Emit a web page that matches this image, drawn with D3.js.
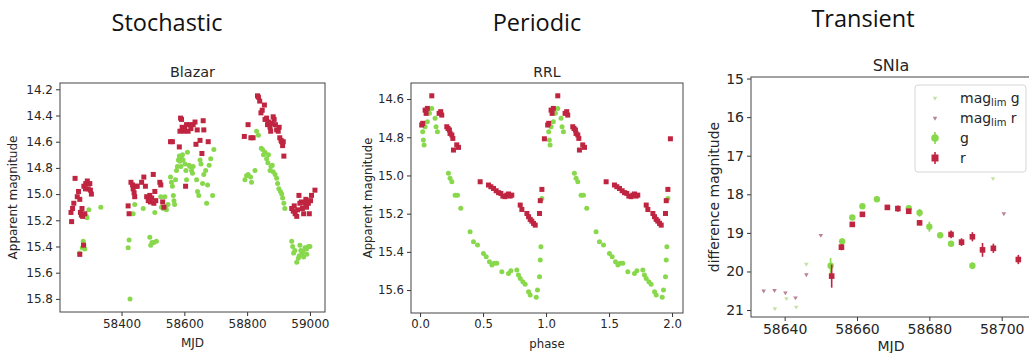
<!DOCTYPE html>
<html>
<head>
<meta charset="utf-8">
<script src="https://cdn.jsdelivr.net/npm/d3@7"></script>
<style>
  body { margin: 0; background: #fff; }
  svg text { font-family: "DejaVu Sans", sans-serif; fill: #262626; }
</style>
</head>
<body>
<svg id="chart" width="1029" height="353"></svg>
<script>
const RED = "#bf2440";
const GREEN = "#88d84c";
const LIM_G = "#c4e2a4";
const LIM_R = "#b98296";

// ---- Blazar (MJD, mag)
const blazarR = [
  [58239,15.14],[58241,15.21],[58244,15.11],[58248,15.07],[58252,14.88],[58259,15.02],[58263,14.98],[58267,15.04],
  [58269,15.14],[58272,15.16],[58274,15.11],[58276,15.17],[58267,15.46],[58279,15.39],[58280,14.94],[58286,14.92],
  [58291,14.90],[58294,14.96],[58299,14.92],[58301,14.97],[58304,15.00],[58285,14.96],[58283,15.15],
  [58421,15.09],[58424,15.15],[58430,14.91],[58435,14.93],[58437,14.96],[58440,14.99],[58442,15.02],[58446,14.94],
  [58450,14.94],[58464,14.91],[58471,14.87],[58476,14.94],[58480,15.02],[58485,15.05],[58490,15.01],[58492,15.06],
  [58496,15.03],[58501,14.85],[58503,15.07],[58506,14.98],[58509,15.05],[58522,14.91],[58525,14.93],[58531,15.06],[58535,15.10],
  [58556,14.60],[58562,14.60],[58584,14.64],[58586,14.52],[58588,14.42],[58591,14.43],[58593,14.49],[58596,14.51],
  [58599,14.52],[58601,14.50],[58604,14.94],[58607,14.47],[58612,14.52],[58618,14.47],[58621,14.50],[58628,14.47],
  [58634,14.45],[58637,14.62],[58641,14.51],[58650,14.59],[58656,14.69],[58660,14.44],[58662,14.51],[58676,14.60],
  [58791,14.56],[58803,14.47],[58812,14.57],[58819,14.57],[58833,14.25],[58836,14.26],[58840,14.29],[58844,14.38],
  [58848,14.36],[58855,14.32],[58857,14.43],[58862,14.42],[58865,14.47],[58868,14.45],[58873,14.49],[58875,14.52],
  [58878,14.46],[58883,14.41],[58886,14.43],[58890,14.47],[58894,14.51],[58899,14.52],[58902,14.49],[58904,14.57],
  [58908,14.59],[58910,14.60],[58913,14.63],[58915,14.60],[58917,14.71],
  [58942,15.11],[58947,15.13],[58950,15.09],[58953,15.15],[58958,15.17],[58961,15.12],[58965,15.01],[58968,15.07],
  [58973,15.06],[58976,15.11],[58980,15.15],[58984,15.07],[58987,15.04],[58989,15.10],[58995,15.07],[58998,15.15],
  [59002,15.05],[59005,15.01],[59016,14.97]
];
const blazarG = [
  [58288,15.17],[58290,15.18],[58296,15.12],[58334,15.10],[58267,15.45],[58275,15.41],[58278,15.36],[58280,15.39],[58283,15.42],
  [58421,15.41],[58424,15.35],[58427,15.80],[58437,15.15],[58442,15.08],[58469,15.11],[58490,15.33],[58493,15.39],
  [58497,15.37],[58503,15.37],[58506,15.14],[58511,15.36],[58525,15.02],[58527,15.10],[58533,15.11],[58538,15.02],
  [58541,15.10],[58543,15.12],[58548,15.08],
  [58556,14.87],[58559,14.91],[58562,14.94],[58565,15.01],[58567,15.05],[58569,15.08],[58572,14.89],[58575,14.82],
  [58578,14.79],[58581,14.74],[58584,14.71],[58586,14.75],[58589,14.79],[58591,14.73],[58594,14.70],[58596,14.74],
  [58602,14.77],[58605,14.82],[58607,14.89],[58610,14.68],[58615,14.78],[58618,14.79],[58623,14.82],[58626,14.84],
  [58628,14.79],[58639,14.89],[58642,14.98],[58646,15.01],[58650,14.74],[58653,14.77],[58658,14.92],[58662,14.85],
  [58668,14.82],[58671,15.07],[58674,14.93],[58679,14.78],[58684,14.73],[58690,15.01],[58694,14.66],
  [58793,14.89],[58798,14.86],[58803,14.85],[58811,14.87],[58814,14.91],[58825,14.82],[58830,14.52],[58836,14.55],
  [58845,14.65],[58849,14.66],[58852,14.70],[58857,14.68],[58862,14.73],[58866,14.76],[58868,14.70],[58873,14.82],
  [58876,14.79],[58880,14.78],[58883,14.83],[58889,14.85],[58894,14.88],[58897,14.92],[58901,14.96],[58906,14.98],
  [58910,15.00],[58913,15.03],[58917,15.07],[58920,15.11],
  [58942,15.36],[58945,15.40],[58948,15.45],[58952,15.43],[58958,15.52],[58963,15.49],[58968,15.39],[58971,15.43],
  [58975,15.45],[58978,15.44],[58980,15.48],[58984,15.41],[58989,15.42],[58995,15.40],[59000,15.40],[58966,15.47],[58990,15.46]
];
const blazarXTicks = [58400, 58600, 58800, 59000];
const blazarYTicks = [14.2, 14.4, 14.6, 14.8, 15.0, 15.2, 15.4, 15.6, 15.8];

// ---- RRL, one cycle (phase, mag); drawn at phase and phase + 1
const rrlR = [
  [0.013,14.736],[0.021,14.727],[0.040,14.658],[0.048,14.675],[0.058,14.649],[0.093,14.583],[0.151,14.675],[0.164,14.666],
  [0.172,14.684],[0.212,14.745],[0.222,14.754],[0.233,14.762],[0.238,14.780],[0.252,14.788],[0.260,14.806],[0.265,14.867],
  [0.291,14.840],[0.305,14.853],[0.477,15.033],[0.543,15.050],[0.562,15.059],[0.583,15.068],[0.604,15.080],[0.623,15.090],
  [0.641,15.094],[0.657,15.108],[0.675,15.111],[0.689,15.103],[0.702,15.097],[0.715,15.108],[0.728,15.103],[0.795,15.155],
  [0.808,15.178],[0.848,15.199],[0.861,15.216],[0.874,15.230],[0.887,15.239],[0.901,15.251],[0.914,15.260],[0.948,15.199],
  [0.954,15.132],[0.967,15.073],[0.987,14.808]
];
const rrlG = [
  [0.021,14.771],[0.026,14.815],[0.032,14.841],[0.040,14.745],[0.058,14.719],[0.074,14.675],[0.093,14.649],[0.119,14.701],
  [0.127,14.745],[0.138,14.771],[0.225,14.989],[0.238,15.015],[0.252,15.033],[0.278,15.103],[0.297,15.103],[0.323,15.172],
  [0.397,15.295],[0.424,15.347],[0.456,15.364],[0.503,15.408],[0.525,15.425],[0.551,15.452],[0.570,15.469],[0.588,15.460],
  [0.609,15.460],[0.649,15.504],[0.702,15.513],[0.721,15.499],[0.768,15.495],[0.781,15.521],[0.795,15.539],[0.816,15.556],
  [0.834,15.569],[0.861,15.609],[0.874,15.626],[0.922,15.638],[0.932,15.600],[0.948,15.530],[0.954,15.443],[0.959,15.373],
  [0.967,15.120]
];
const rrlXTicks = [0.0, 0.5, 1.0, 1.5, 2.0];
const rrlYTicks = [14.6, 14.8, 15.0, 15.2, 15.4, 15.6];

// ---- SNIa (MJD, mag, err)
const snG = [
  [58652.7,19.85,0.20],[58655.9,19.22,0.08],[58658.7,18.60,0.05],[58661.5,18.31,0.05],[58665.5,18.13,0.04],[58674.3,18.36,0.06],
  [58677.3,18.48,0.10],[58680.0,18.84,0.13],[58683.0,19.06,0.07],[58686.0,19.28,0.07],[58691.9,19.85,0.09]
];
const snR = [
  [58653.0,20.12,0.30],[58655.7,19.37,0.08],[58658.7,18.78,0.05],[58661.5,18.52,0.05],[58668.4,18.34,0.05],[58671.3,18.37,0.08],
  [58674.3,18.44,0.07],[58677.3,18.74,0.06],[58686.0,19.04,0.10],[58688.9,19.24,0.10],[58691.9,19.10,0.12],[58694.7,19.44,0.18],
  [58697.7,19.40,0.12],[58704.6,19.69,0.12]
];
const snLimG = [[58637.3,20.96],[58640.5,20.70],[58643.2,20.92],[58646.0,19.81],[58697.6,17.59]];
const snLimR = [[58634.2,20.50],[58637.2,20.49],[58640.2,20.55],[58643.0,20.68],[58646.0,20.08],[58650.0,19.06],[58700.6,18.50]];
const snXTicks = [58640, 58660, 58680, 58700];
const snYTicks = [15, 16, 17, 18, 19, 20, 21];

const headers = ["Stochastic", "Periodic", "Transient"];

const svg = d3.select("#chart");

function makeAxes(c) {
  const g = svg.append("g");
  const x = d3.scaleLinear().domain(c.xDomain).range([c.left, c.right]);
  const y = d3.scaleLinear().domain(c.yDomain).range([c.top, c.bottom]);

  const xa = g.append("g")
    .attr("transform", "translate(0," + c.bottom + ")")
    .call(d3.axisBottom(x).tickValues(c.xTicks).tickFormat(c.xFormat).tickSize(4).tickPadding(3));
  const ya = g.append("g")
    .attr("transform", "translate(" + c.left + ",0)")
    .call(d3.axisLeft(y).tickValues(c.yTicks).tickFormat(c.yFormat).tickSize(4).tickPadding(3));
  [xa, ya].forEach(a => {
    a.select(".domain").remove();
    a.selectAll("line").attr("stroke", "#333");
    a.selectAll("text").style("font-size", c.font + "px").attr("fill", "#262626");
  });

  g.append("rect")
    .attr("x", c.left).attr("y", c.top)
    .attr("width", c.right - c.left).attr("height", c.bottom - c.top)
    .attr("fill", "none").attr("stroke", "#444").attr("stroke-width", 1);

  g.append("text").attr("x", (c.left + c.right) / 2).attr("y", c.top - 6)
    .attr("text-anchor", "middle").style("font-size", c.titleFont + "px").text(c.title);
  g.append("text").attr("x", (c.left + c.right) / 2).attr("y", c.xLabelY)
    .attr("text-anchor", "middle").style("font-size", c.font + "px").text(c.xLabel);
  g.append("text")
    .attr("transform", "translate(" + c.yLabelX + "," + (c.top + c.bottom) / 2 + ") rotate(-90)")
    .attr("text-anchor", "middle").style("font-size", c.font + "px").text(c.yLabel);
  return { g, x, y };
}

function circles(ax, data, r, color) {
  ax.g.append("g").selectAll("circle").data(data).enter().append("circle")
    .attr("cx", d => ax.x(d[0])).attr("cy", d => ax.y(d[1])).attr("r", r).attr("fill", color);
}
function squares(ax, data, s, color) {
  ax.g.append("g").selectAll("rect").data(data).enter().append("rect")
    .attr("x", d => ax.x(d[0]) - s / 2).attr("y", d => ax.y(d[1]) - s / 2)
    .attr("width", s).attr("height", s).attr("fill", color);
}

// headers
const headerX = [167, 537, 863], headerY = [31, 31, 27];
svg.selectAll(".hdr").data(headers).enter().append("text")
  .attr("class", "hdr")
  .attr("x", (d, i) => headerX[i]).attr("y", (d, i) => headerY[i])
  .attr("text-anchor", "middle")
  .style("font-family", "'Open Sans', sans-serif").style("font-size", "23.5px").style("fill", "#111")
  .text(d => d);

// Blazar
const fmt1 = d3.format(".1f");
const bl = makeAxes({
  left: 60, right: 325, top: 83, bottom: 312,
  xDomain: [58204, 59048], yDomain: [14.152, 15.90],
  xTicks: blazarXTicks, yTicks: blazarYTicks, xFormat: d3.format("d"), yFormat: fmt1,
  font: 12, titleFont: 14.4, title: "Blazar", xLabel: "MJD", xLabelY: 347, yLabel: "Apparent magnitude", yLabelX: 17
});
circles(bl, blazarG, 2.5, GREEN);
squares(bl, blazarR, 5, RED);

// RRL
const rrlGAll = rrlG.concat(rrlG.map(d => [d[0] + 1, d[1]]));
const rrlRAll = rrlR.concat(rrlR.map(d => [d[0] + 1, d[1]]));
const rr = makeAxes({
  left: 411, right: 683, top: 83, bottom: 313,
  xDomain: [-0.072, 2.087], yDomain: [14.516, 15.72],
  xTicks: rrlXTicks, yTicks: rrlYTicks, xFormat: fmt1, yFormat: fmt1,
  font: 11.7, titleFont: 14, title: "RRL", xLabel: "phase", xLabelY: 348, yLabel: "Apparent magnitude", yLabelX: 372
});
circles(rr, rrlGAll, 2.5, GREEN);
squares(rr, rrlRAll, 5, RED);

// SNIa
const sn = makeAxes({
  left: 751, right: 1031, top: 77, bottom: 317,
  xDomain: [58630.7, 58708.1], yDomain: [14.96, 21.18],
  xTicks: snXTicks, yTicks: snYTicks, xFormat: d3.format("d"), yFormat: d3.format("d"),
  font: 14, titleFont: 16, title: "SNIa", xLabel: "MJD", xLabelY: 351, yLabel: "difference magnitude", yLabelX: 719
});

const tri = d3.symbol().type(d3.symbolTriangle).size(9);
function limits(ax, data, color) {
  ax.g.append("g").selectAll("path").data(data).enter().append("path")
    .attr("d", tri)
    .attr("transform", d => "translate(" + ax.x(d[0]) + "," + ax.y(d[1]) + ") rotate(180)")
    .attr("fill", color);
}
function errbars(ax, data, color) {
  ax.g.append("g").selectAll("line").data(data).enter().append("line")
    .attr("x1", d => ax.x(d[0])).attr("x2", d => ax.x(d[0]))
    .attr("y1", d => ax.y(d[1] - d[2])).attr("y2", d => ax.y(d[1] + d[2]))
    .attr("stroke", color).attr("stroke-width", 1.6);
}
limits(sn, snLimG, LIM_G);
limits(sn, snLimR, LIM_R);
errbars(sn, snG, GREEN);
circles(sn, snG, 3.2, GREEN);
errbars(sn, snR, RED);
squares(sn, snR, 5.6, RED);

// legend
const lg = sn.g.append("g");
lg.append("rect").attr("x", 915).attr("y", 85).attr("width", 111).attr("height", 87).attr("rx", 3)
  .attr("fill", "#fff").attr("stroke", "#d6d6d6");
const legendItems = [
  { label: "mag", sub: "lim", tail: " g", kind: "limg" },
  { label: "mag", sub: "lim", tail: " r", kind: "limr" },
  { label: "g", kind: "g" },
  { label: "r", kind: "r" }
];
legendItems.forEach((it, i) => {
  const cy = 98 + i * 20;
  const mx = 935;
  if (it.kind === "limg" || it.kind === "limr") {
    lg.append("path").attr("d", tri).attr("transform", "translate(" + mx + "," + cy + ") rotate(180)")
      .attr("fill", it.kind === "limg" ? LIM_G : LIM_R);
  } else if (it.kind === "g") {
    lg.append("line").attr("x1", mx).attr("x2", mx).attr("y1", cy - 6).attr("y2", cy + 6).attr("stroke", GREEN).attr("stroke-width", 1.6);
    lg.append("circle").attr("cx", mx).attr("cy", cy).attr("r", 3.8).attr("fill", GREEN);
  } else {
    lg.append("line").attr("x1", mx).attr("x2", mx).attr("y1", cy - 6).attr("y2", cy + 6).attr("stroke", RED).attr("stroke-width", 1.6);
    lg.append("rect").attr("x", mx - 3.5).attr("y", cy - 3.5).attr("width", 7).attr("height", 7).attr("fill", RED);
  }
  const t = lg.append("text").attr("x", 960).attr("y", cy + 5).style("font-size", "14px");
  t.append("tspan").text(it.label);
  if (it.sub) {
    t.append("tspan").attr("dy", 3).style("font-size", "10px").text(it.sub);
    t.append("tspan").attr("dy", -3).text(it.tail);
  }
});
</script>
</body>
</html>
